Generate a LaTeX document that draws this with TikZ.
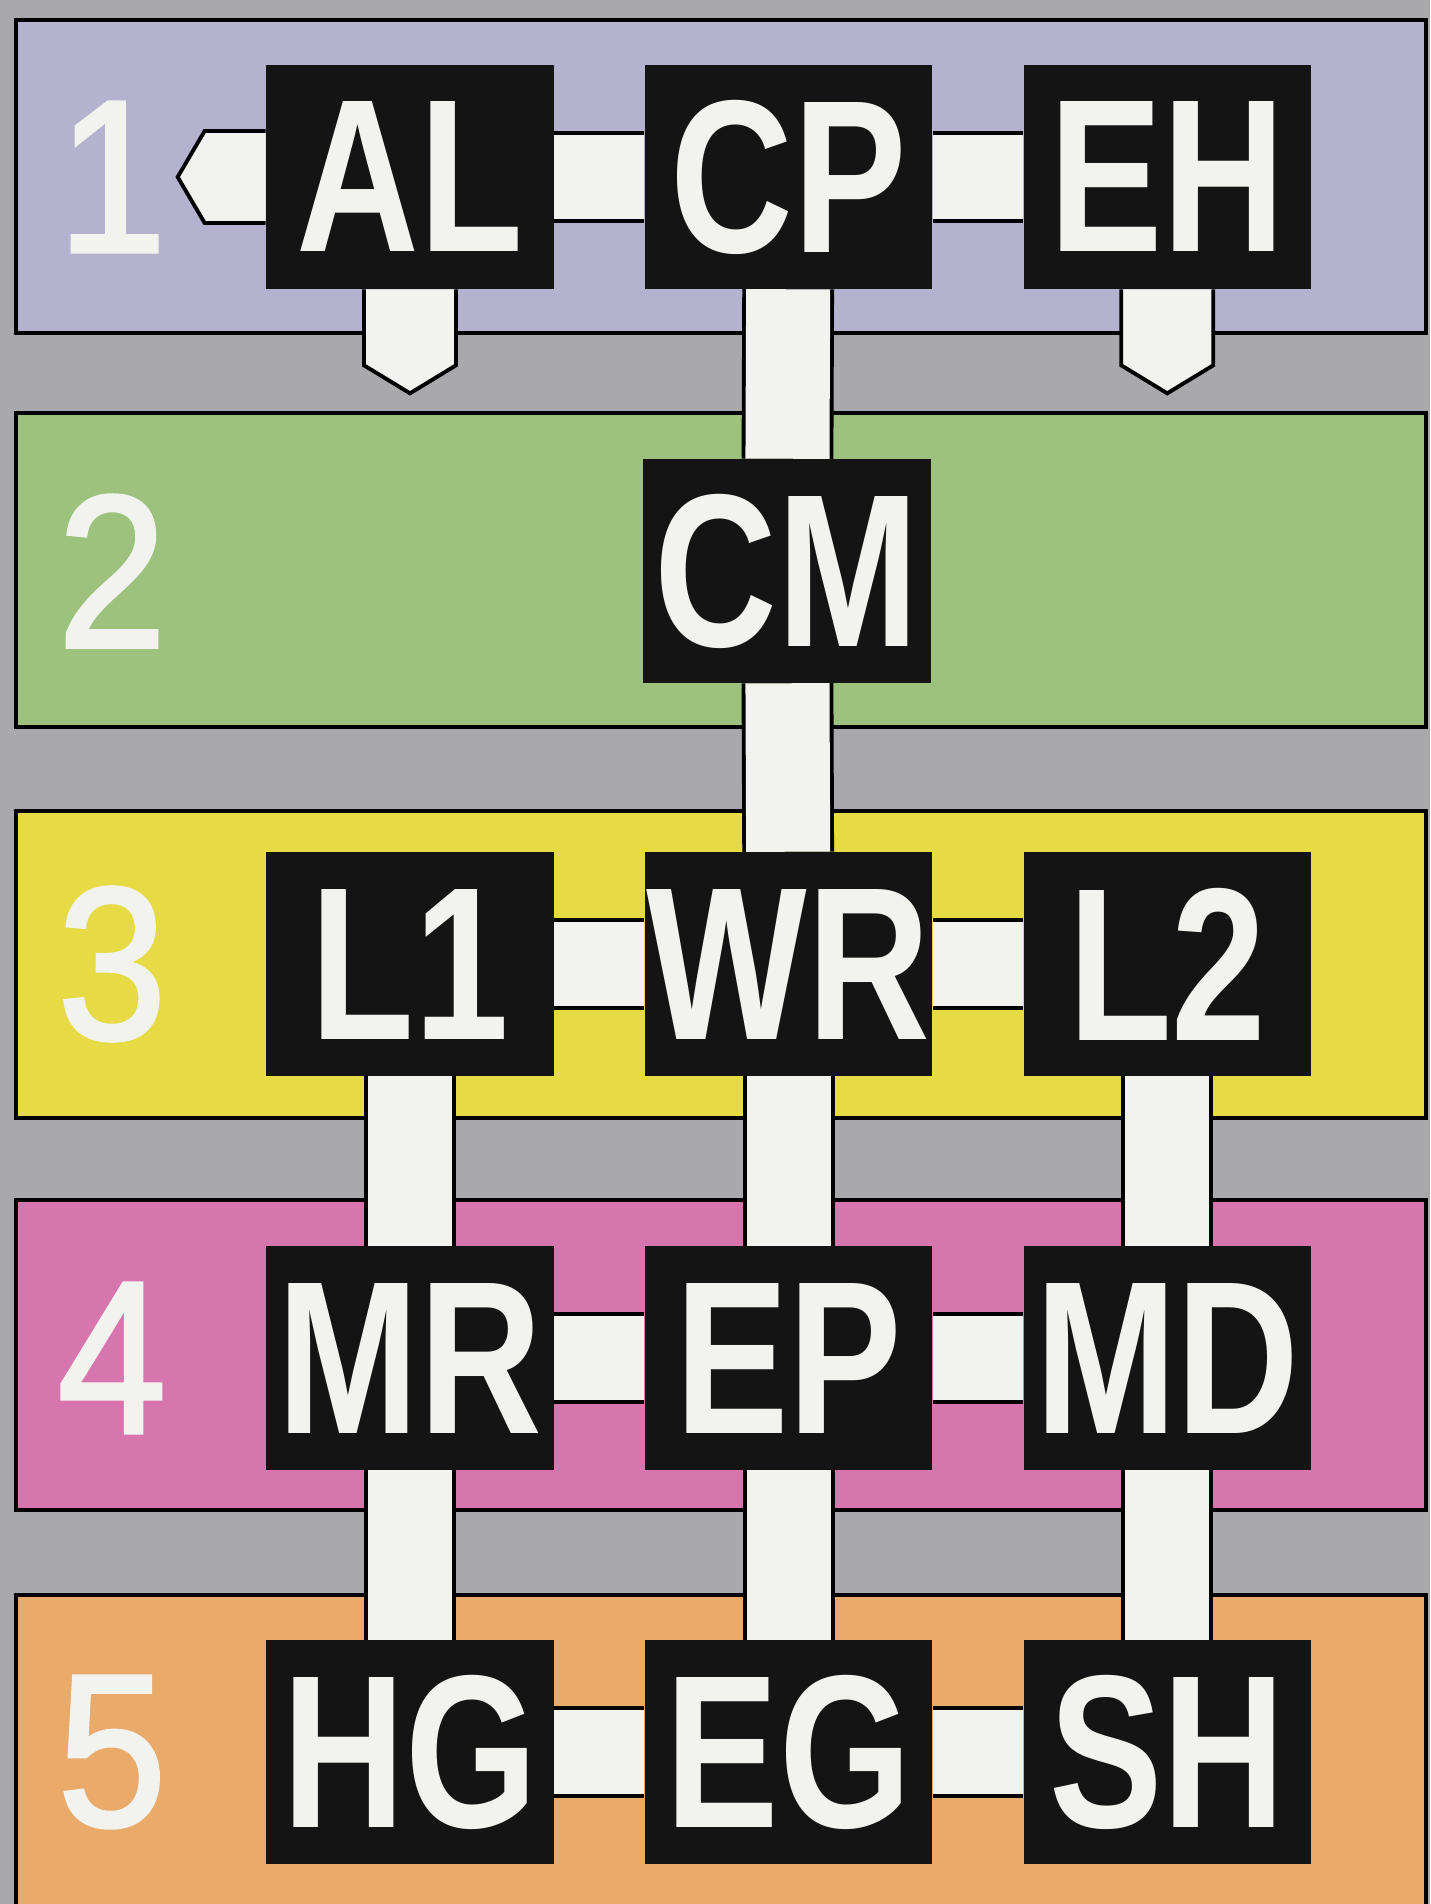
\documentclass[tikz,border=0pt]{standalone}
\usepackage{fontspec}
\usepackage{xcolor}
\usetikzlibrary{positioning,calc}
\setmainfont{Liberation Sans}
\newfontfamily\boxfont[FakeStretch=0.78]{Liberation Sans}
\newfontfamily\numfont[FakeStretch=0.9, FakeBold=1.5]{Liberation Sans}
\definecolor{bggray}{HTML}{A9A9AB}
\definecolor{bandlilac}{HTML}{B4B2CF}
\definecolor{bandgreen}{HTML}{9CC27D}
\definecolor{bandyellow}{HTML}{E6DA45}
\definecolor{bandpink}{HTML}{D775AE}
\definecolor{bandorange}{HTML}{E9AA6A}
\definecolor{boxblack}{HTML}{141414}
\definecolor{barwhite}{HTML}{F2F2EE}
\tikzset{
  code/.style={fill=boxblack, text=barwhite, inner sep=0pt, minimum width=2.87cm, minimum height=2.23cm, font=\boxfont\bfseries\fontsize{62}{62}\selectfont},
  rownum/.style={text=barwhite, font=\numfont\fontsize{62}{62}\selectfont},
  band/.style={draw=black, line width=1pt},
  bar/.style={draw=black, line width=1.1pt, double=barwhite, double distance=0.84cm},
  arrowbar/.style={draw=black, line width=1.1pt, fill=barwhite, line join=miter}
}

\begin{document}
\begin{tikzpicture}[x=0.01cm, y=-0.01cm]
\useasboundingbox (0,0) rectangle (1430,1904);
% Background
\fill[bggray] (0,0) rectangle (1430,1904);
% Bands
\draw[band, fill=bandlilac] (16,20) rectangle (1426,333);
\draw[band, fill=bandgreen] (16,413) rectangle (1426,727);
\draw[band, fill=bandyellow] (16,811) rectangle (1426,1118);
\draw[band, fill=bandpink] (16,1200) rectangle (1426,1510);
\draw[band, fill=bandorange] (16,1595) rectangle (1426,1940);
% Row numbers
\foreach \n/\y in {1/177,2/571,3/964,4/1358,5/1752}
  \node[rownum] (num\n) at (112,\y) {\n};
% Row 1
\node[code] (AL) at (410,177) {AL};
\node[code, right=0.9cm of AL] (CP) {CP};
\node[code, right=0.9cm of CP] (EH) {EH};
% Row 2
\node[code] (CM) at (787,571) {CM};
% Row 3
\node[code] (L1) at (410,964) {L1};
\node[code, right=0.9cm of L1] (WR) {WR};
\node[code, right=0.9cm of WR] (L2) {L2};
% Row 4
\node[code] (MR) at (410,1358) {MR};
\node[code, right=0.9cm of MR] (EP) {EP};
\node[code, right=0.9cm of EP] (MD) {MD};
% Row 5
\node[code] (HG) at (410,1752) {HG};
\node[code, right=0.9cm of HG] (EG) {EG};
\node[code, right=0.9cm of EG] (SH) {SH};
% Bars
\foreach \a/\b in {AL/CP, CP/EH, CP/CM, CM/WR, L1/WR, WR/L2, L1/MR, WR/EP, L2/MD,
  MR/EP, EP/MD, MR/HG, EP/EG, MD/SH, HG/EG, EG/SH}
  \draw[bar] (\a) -- (\b);
% Arrows out of row 1
\coordinate (ALleft) at ([xshift=-0.88cm]AL.west);
\coordinate (ALdown) at ([yshift=-1.04cm]AL.south);
\coordinate (EHdown) at ([yshift=-1.04cm]EH.south);
\draw[arrowbar] ($(AL.west)+(0,-46)$) -- ($(ALleft)+(27,-46)$) -- (ALleft) -- ($(ALleft)+(27,46)$) -- ($(AL.west)+(0,46)$);
\draw[arrowbar] ($(AL.south)+(-46,0)$) -- ($(ALdown)+(-46,-28)$) -- (ALdown) -- ($(ALdown)+(46,-28)$) -- ($(AL.south)+(46,0)$);
\draw[arrowbar] ($(EH.south)+(-46,0)$) -- ($(EHdown)+(-46,-28)$) -- (EHdown) -- ($(EHdown)+(46,-28)$) -- ($(EH.south)+(46,0)$);
\end{tikzpicture}
\end{document}
